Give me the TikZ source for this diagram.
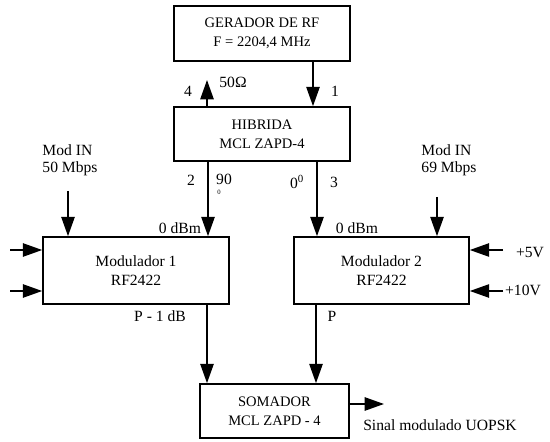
\documentclass[tikz,border=0pt]{standalone}
\usepackage{fontspec}
\setmainfont{Liberation Serif}
\usetikzlibrary{arrows.meta}

\tikzset{every picture/.style={line width=1.2pt}}
\tikzset{
  blk/.style={draw, align=center, inner sep=0pt, font=\fontsize{11.7}{14}\selectfont},
  sig/.style={-{Triangle[length=14.5pt,width=10pt]}},
  lbl/.style={inner sep=0.75pt, font=\fontsize{11.7}{12.5}\selectfont},
}

\begin{document}
\begin{tikzpicture}[x=0.75pt,y=0.75pt,yscale=-1,xscale=1]
\path[use as bounding box] (0,0) rectangle (550,442);

%Shape: Rectangle [id:gerador]
\node (gerador) [blk, minimum width=132pt, minimum height=41.25pt, font=\fontsize{10.9}{14}\selectfont] at (262,33.5) {GERADOR DE RF\\F = 2204,4 MHz};
%Shape: Rectangle [id:hibrida]
\node (hibrida) [blk, minimum width=132pt, minimum height=40.5pt, font=\fontsize{10.9}{14}\selectfont] at (262,134) {HIBRIDA\\MCL ZAPD-4};
%Shape: Rectangle [id:mod1]
\node (mod1) [blk, minimum width=139.5pt, minimum height=50.25pt] at (136,270.5) {Modulador 1\\RF2422};
%Shape: Rectangle [id:mod2]
\node (mod2) [blk, minimum width=131.25pt, minimum height=50.25pt] at (381.5,270.5) {Modulador 2\\RF2422};
%Shape: Rectangle [id:somador]
\node (somador) [blk, minimum width=111.75pt, minimum height=40.5pt, font=\fontsize{10.9}{14}\selectfont] at (274.5,411) {SOMADOR\\MCL ZAPD - 4};

% free ends and line positions
\coordinate (c1) at (313,0);
\coordinate (ohm) at (207,80);
\coordinate (c2) at (208,0);
\coordinate (c3) at (317,0);
\coordinate (in1) at (68,191);
\coordinate (in2) at (437,197);
\coordinate (ia) at (10,250);
\coordinate (ib) at (10,291);
\coordinate (ic) at (503,250);
\coordinate (id) at (503,291);
\coordinate (s1) at (207,0);
\coordinate (s2) at (316,0);
\coordinate (out) at (384,404);

%Straight Lines
\draw [sig] (gerador.south -| c1) -- (hibrida.north -| c1);
\draw [sig] (hibrida.north -| ohm) -- (ohm);
\draw [sig] (hibrida.south -| c2) -- (mod1.north -| c2);
\draw [sig] (hibrida.south -| c3) -- (mod2.north -| c3);
\draw [sig] (in1) -- (mod1.north -| in1);
\draw [sig] (in2) -- (mod2.north -| in2);
\draw [sig] (ia) -- (mod1.west |- ia);
\draw [sig] (ib) -- (mod1.west |- ib);
\draw [sig] (ic) -- (mod2.east |- ic);
\draw [sig] (id) -- (mod2.east |- id);
\draw [sig] (mod1.south -| s1) -- (somador.north -| s1);
\draw [sig] (mod2.south -| s2) -- (somador.north -| s2);
\draw [sig] (somador.east |- out) -- (out);

% Text Node
\node (t4) [lbl] at (188,91) {4};
% Text Node
\node (tohm) [lbl] at (233,82) {50Ω};
% Text Node
\node (t1) [lbl] at (335,91) {1};
% Text Node
\node (t2) [lbl] at (191,180) {2};
% Text Node
\node (t90) [lbl] at (224,179) {90};
% Text Node
\node (t90s) [inner sep=0.75pt, font=\fontsize{5}{6}\selectfont] at (219,192) {0};
% Text Node
\node (t00) [lbl] at (297,182) {0\textsuperscript{0}};
% Text Node
\node (t3) [lbl] at (334,182) {3};
% Text Node
\node (dbm1) [lbl] at (180,228) {0 dBm};
% Text Node
\node (dbm2) [lbl] at (357,228) {0 dBm};
% Text Node
\node (modin1) [lbl, align=left] at (70,160) {Mod IN\\50 Mbps};
% Text Node
\node (modin2) [lbl, align=left] at (449,160) {Mod IN\\69 Mbps};
% Text Node
\node (v5) [lbl] at (530,253) {+5V};
% Text Node
\node (v10) [lbl] at (523,290) {+10V};
% Text Node
\node (p1db) [lbl] at (160,316) {P - 1 dB};
% Text Node
\node (p) [lbl] at (332,316) {P};
% Text Node
\node (sinal) [lbl] at (440,425) {Sinal modulado UOPSK};

\end{tikzpicture}
\end{document}
